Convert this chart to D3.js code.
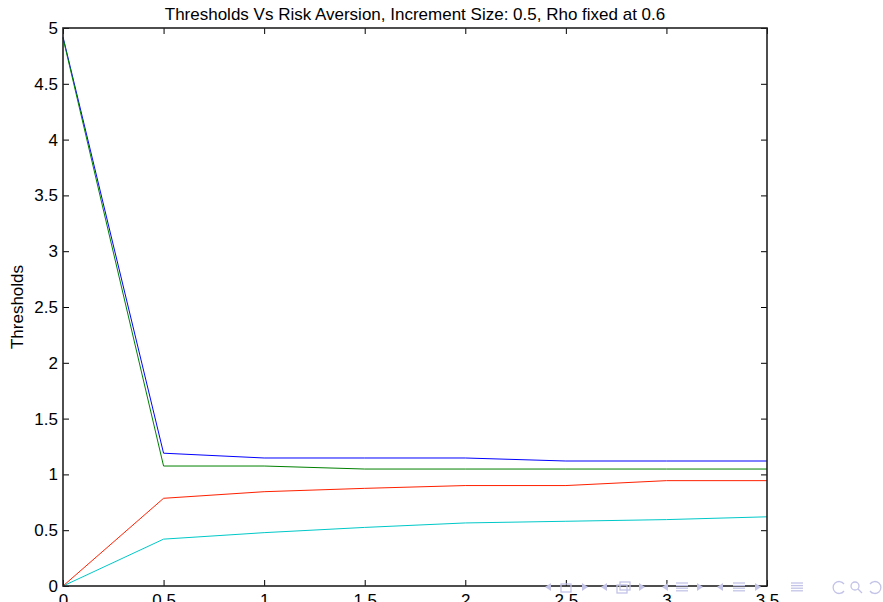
<!DOCTYPE html>
<html lang="en">
<head>
<meta charset="UTF-8">
<title>Thresholds Vs Risk Aversion</title>
<script src="https://d3js.org/d3.v7.min.js"></script>
<style>
body { margin: 0; background: #fff; }
text { font-family: "Liberation Sans", Arial, sans-serif; fill: #000; }
</style>
</head>
<body>
<div id="chart"></div>
<script>
// data
const riskAversion = [0, 0.5, 1, 1.5, 2, 2.5, 3, 3.5];
const blue  = [4.92, 1.19, 1.147, 1.147, 1.147, 1.12, 1.12, 1.12];
const green = [4.91, 1.075, 1.075, 1.048, 1.048, 1.048, 1.048, 1.048];
const red   = [0, 0.786, 0.845, 0.875, 0.9, 0.9, 0.944, 0.944];
const cyan  = [0, 0.42, 0.478, 0.525, 0.565, 0.58, 0.595, 0.62];
const xTicks = [0, 0.5, 1, 1.5, 2, 2.5, 3, 3.5];
const yTicks = [0, 0.5, 1, 1.5, 2, 2.5, 3, 3.5, 4, 4.5, 5];

const series = [
  {values: blue,  color: "#0000ff"},
  {values: green, color: "#008000"},
  {values: red,   color: "#ff2000"},
  {values: cyan,  color: "#00c8c8"}
];

const W = 883, H = 602;
const m = {left: 63, right: 116, top: 28, bottom: 16};
const fs = "17px";

const svg = d3.select("#chart").append("svg")
    .attr("width", W).attr("height", H);

const x = d3.scaleLinear().domain([0, 3.5]).range([m.left, W - m.right]);
const y = d3.scaleLinear().domain([0, 5]).range([H - m.bottom, m.top]);

const fmt = d => String(d);

// inward ticks on all four sides, like matlab
svg.append("g").attr("transform", `translate(0,${y(0)})`)
    .call(d3.axisBottom(x).tickValues(xTicks).tickSizeInner(-6).tickSizeOuter(0).tickPadding(8).tickFormat(fmt))
    .call(g => g.select(".domain").remove());
svg.append("g").attr("transform", `translate(0,${y(5)})`)
    .call(d3.axisTop(x).tickValues(xTicks).tickSizeInner(-6).tickSizeOuter(0).tickFormat(""))
    .call(g => g.select(".domain").remove());
svg.append("g").attr("transform", `translate(${x(0)},0)`)
    .call(d3.axisLeft(y).tickValues(yTicks).tickSizeInner(-6).tickSizeOuter(0).tickPadding(5).tickFormat(fmt))
    .call(g => g.select(".domain").remove());
svg.append("g").attr("transform", `translate(${x(3.5)},0)`)
    .call(d3.axisRight(y).tickValues(yTicks).tickSizeInner(-6).tickSizeOuter(0).tickFormat(""))
    .call(g => g.select(".domain").remove());

svg.selectAll(".tick text").style("font-size", fs).style("font-family", "Liberation Sans, Arial, sans-serif");
svg.selectAll(".tick line").attr("stroke", "#000");

const line = d3.line().x((d, i) => x(riskAversion[i])).y(d => y(d));

svg.selectAll("path.series").data(series).join("path")
    .attr("class", "series")
    .attr("fill", "none")
    .attr("stroke", d => d.color)
    .attr("stroke-width", 1)
    .attr("d", d => line(d.values));

// frame
svg.append("rect")
    .attr("x", x(0)).attr("y", y(5))
    .attr("width", x(3.5) - x(0)).attr("height", y(0) - y(5))
    .attr("fill", "none").attr("stroke", "#222").attr("stroke-width", 1.6);

svg.append("text")
    .attr("x", (x(0) + x(3.5)) / 2).attr("y", 20)
    .attr("text-anchor", "middle").style("font-size", fs)
    .text("Thresholds Vs Risk Aversion, Increment Size: 0.5, Rho fixed at 0.6");

svg.append("text")
    .attr("transform", `translate(23,${(y(0) + y(5)) / 2}) rotate(-90)`)
    .attr("text-anchor", "middle").style("font-size", fs)
    .text("Thresholds");

// beamer navigation symbols
const nav = svg.append("g").attr("fill", "none").attr("stroke", "#c3c3e8").attr("stroke-width", 1.3);
const navY = 587;
const tri = (cx, dir) => nav.append("path").attr("fill", "#c3c3e8").attr("stroke", "none")
    .attr("d", `M${cx + dir * 3},${navY - 4} L${cx - dir * 3},${navY} L${cx + dir * 3},${navY + 4} Z`);
const bars = cx => { for (let k = -4; k <= 4; k += 2.6) nav.append("line").attr("x1", cx - 6).attr("x2", cx + 6).attr("y1", navY + k).attr("y2", navY + k); };
tri(548, 1); nav.append("rect").attr("x", 561).attr("y", navY - 3).attr("width", 10).attr("height", 8); tri(585, -1);
tri(604, 1);
nav.append("rect").attr("x", 617).attr("y", navY - 2).attr("width", 10).attr("height", 8);
nav.append("rect").attr("x", 620).attr("y", navY - 5).attr("width", 10).attr("height", 8);
tri(642, -1);
tri(665, 1); bars(682); tri(700, -1);
tri(720, 1); bars(739); tri(758, -1);
bars(797);
nav.append("path").attr("d", `M${844},${navY - 3} A6,6 0 1,0 ${844},${navY + 4}`);
nav.append("circle").attr("cx", 855).attr("cy", navY - 1).attr("r", 4);
nav.append("line").attr("x1", 858).attr("y1", navY + 2).attr("x2", 862).attr("y2", navY + 6);
nav.append("path").attr("d", `M${870},${navY - 3} A6,6 0 1,1 ${870},${navY + 4}`);
</script>
</body>
</html>
